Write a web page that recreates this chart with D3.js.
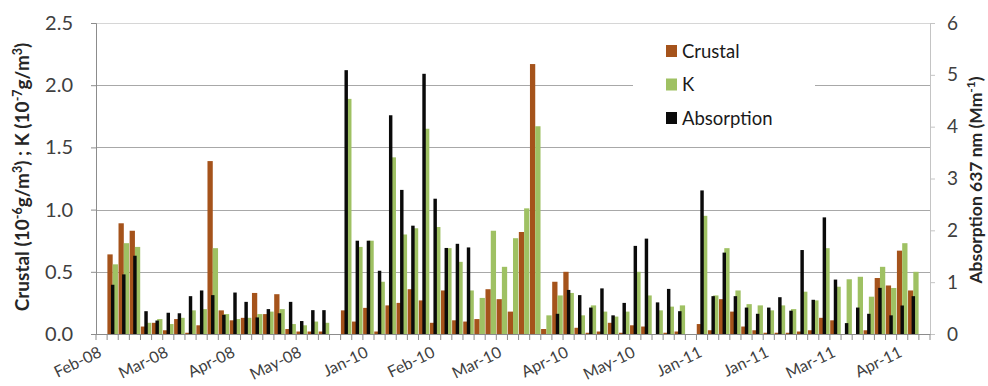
<!DOCTYPE html>
<html>
<head>
<meta charset="utf-8">
<script src="https://cdn.jsdelivr.net/npm/d3@7"></script>
<style>
  body { margin: 0; background: #fff; }
  svg { display: block; }
  text { font-family: Lato, "Open Sans", sans-serif; }
</style>
</head>
<body>
<svg id="chart" width="988" height="386"></svg>
<script>
// Sampling periods: one label every six samples
const tickLabels = ["Feb-08", "Mar-08", "Apr-08", "May-08", "Jan-10", "Feb-10", "Mar-10",
                    "Apr-10", "May-10", "Jan-11", "Jan-11", "Mar-11", "Apr-11"];
const labelEvery = 6;

// Crustal (10^-6 g/m3), left axis
const crustal = [
  null, 0.64, 0.89, 0.83, 0.06, 0.09, 0.03, 0.12, 0.01, 0.07,
  1.39, 0.19, 0.11, 0.13, 0.33, 0.16, 0.32, 0.04, 0.02, 0.02,
  0.02, null, 0.19, 0.10, 0.21, 0.02, 0.23, 0.25, 0.36, 0.27,
  0.09, 0.35, 0.11, 0.10, 0.12, 0.36, 0.28, 0.18, 0.82, 2.17,
  0.04, 0.42, 0.50, 0.05, 0.01, 0.02, 0.09, 0.01, 0.07, 0.06,
  0.00, 0.01, 0.02, null, 0.08, 0.03, 0.28, 0.18, 0.06, 0.03,
  0.01, 0.01, 0.01, 0.02, 0.03, 0.13, 0.11, 0.00, 0.00, 0.03,
  0.45, 0.39, 0.67, 0.35, null
];

// K (10^-7 g/m3), left axis
const potassium = [
  null, 0.56, 0.73, 0.70, 0.09, 0.12, 0.08, 0.13, 0.19, 0.20,
  0.69, 0.16, 0.12, 0.13, 0.16, 0.18, 0.20, 0.08, 0.07, 0.10,
  0.09, null, 1.89, 0.70, 0.75, 0.42, 1.42, 0.80, 0.85, 1.65,
  0.86, 0.69, 0.58, 0.35, 0.29, 0.83, 0.54, 0.77, 1.01, 1.67,
  0.15, 0.31, 0.33, 0.15, 0.23, 0.18, 0.14, 0.18, 0.50, 0.31,
  0.19, 0.22, 0.23, null, 0.95, 0.31, 0.69, 0.35, 0.24, 0.23,
  0.19, 0.23, 0.20, 0.34, 0.27, 0.69, 0.38, 0.44, 0.46, 0.30,
  0.54, 0.37, 0.73, 0.50, null
];

// Absorption at 637 nm (Mm-1), right axis
const absorption = [
  null, 0.95, 1.15, 1.51, 0.44, 0.26, 0.41, 0.40, 0.73, 0.84,
  0.75, 0.37, 0.80, 0.62, 0.32, 0.48, 0.40, 0.62, 0.25, 0.46,
  0.46, null, 5.09, 1.80, 1.80, 1.22, 4.22, 2.78, 2.09, 5.02,
  2.61, 1.66, 1.74, 1.67, null, null, null, null, null, null,
  null, 0.39, 0.85, 0.75, 0.51, 0.88, 0.36, 0.60, 1.70, 1.84,
  0.61, 0.87, 0.44, null, 2.77, 0.73, 1.57, 0.73, 0.51, 0.39,
  0.51, 0.71, 0.45, 1.62, 0.66, 2.25, 1.05, 0.21, 0.51, 0.39,
  0.89, 0.36, 0.55, 0.73, null
];

const seriesNames = ["Crustal", "K", "Absorption"];
const colors = { Crustal: "#a5531b", K: "#9fc163", Absorption: "#0a0a0a" };

const svg = d3.select("#chart");
const plotLeft = 96, plotRight = 930, plotTop = 23, plotBottom = 334;

const x = d3.scaleBand().domain(d3.range(crustal.length)).range([plotLeft, plotRight]).padding(0);
const yL = d3.scaleLinear().domain([0, 2.5]).range([plotBottom, plotTop]);
const yR = d3.scaleLinear().domain([0, 6]).range([plotBottom, plotTop]);
const bw = x.bandwidth();
const pw = bw * 0.475;   // width of crustal / K bars
const aw = bw * 0.31;    // width of absorption bars

// horizontal gridlines
const leftTicks = d3.range(0, 2.51, 0.5);
svg.append("g").selectAll("line")
  .data(leftTicks.filter(d => d > 0))
  .join("line")
  .attr("x1", plotLeft).attr("x2", plotRight)
  .attr("y1", d => Math.round(yL(d)) + 0.5).attr("y2", d => Math.round(yL(d)) + 0.5)
  .attr("stroke", d => d === 2.5 ? "#d6d6d6" : "#a8a8a8")
  .attr("stroke-width", 1);

// crustal and K bars side by side
const bars = svg.append("g");
bars.selectAll("rect.cr")
  .data(crustal.map((v, i) => ({ i, v })).filter(d => d.v != null))
  .join("rect").attr("class", "cr")
  .attr("x", d => x(d.i) + bw / 2 - pw)
  .attr("width", pw)
  .attr("y", d => yL(d.v))
  .attr("height", d => yL(0) - yL(d.v))
  .attr("fill", colors.Crustal);

bars.selectAll("rect.k")
  .data(potassium.map((v, i) => ({ i, v })).filter(d => d.v != null))
  .join("rect").attr("class", "k")
  .attr("x", d => x(d.i) + bw / 2)
  .attr("width", pw)
  .attr("y", d => yL(d.v))
  .attr("height", d => yL(0) - yL(d.v))
  .attr("fill", colors.K);

// absorption bars on the secondary axis, drawn over the pair
bars.selectAll("rect.ab")
  .data(absorption.map((v, i) => ({ i, v })).filter(d => d.v != null))
  .join("rect").attr("class", "ab")
  .attr("x", d => x(d.i) + bw / 2 - aw / 2)
  .attr("width", aw)
  .attr("y", d => yR(d.v))
  .attr("height", d => yR(0) - yR(d.v))
  .attr("fill", colors.Absorption);

// left axis
const axL = svg.append("g").attr("transform", `translate(${plotLeft},0)`)
  .call(d3.axisLeft(yL).tickValues(leftTicks).tickFormat(d3.format(".1f")).tickSize(5).tickPadding(18));
axL.select(".domain").attr("stroke", "#8c8c8c");
axL.selectAll(".tick line").attr("stroke", "#8c8c8c");
axL.selectAll(".tick text").attr("font-size", 20).attr("fill", "#404040")
  .style("font-family", "Lato, sans-serif");

// right axis
const axR = svg.append("g").attr("transform", `translate(${plotRight},0)`)
  .call(d3.axisRight(yR).ticks(6).tickFormat(d3.format("d")).tickSize(5).tickPadding(12));
axR.select(".domain").attr("stroke", "#c4c4c4");
axR.selectAll(".tick line").attr("stroke", "#c4c4c4");
axR.selectAll(".tick text").attr("font-size", 19).attr("fill", "#404040")
  .style("font-family", "Lato, sans-serif");

// category axis with tick marks between samples
const xa = svg.append("g");
xa.append("line").attr("x1", plotLeft).attr("x2", plotRight)
  .attr("y1", plotBottom + 0.5).attr("y2", plotBottom + 0.5)
  .attr("stroke", "#8c8c8c");
xa.selectAll("line.t")
  .data(d3.range(crustal.length + 1))
  .join("line").attr("class", "t")
  .attr("x1", i => i < crustal.length ? x(i) : plotRight)
  .attr("x2", i => i < crustal.length ? x(i) : plotRight)
  .attr("y1", plotBottom).attr("y2", plotBottom + 6)
  .attr("stroke", "#8c8c8c");
xa.selectAll("text")
  .data(tickLabels)
  .join("text")
  .attr("transform", (d, k) => `translate(${x(k * labelEvery) + bw / 2 + 1},${plotBottom + 22}) rotate(-26)`)
  .attr("text-anchor", "end")
  .attr("font-size", 16)
  .attr("fill", "#404040")
  .text(d => d);

// axis titles with superscript exponents
function titleWithSup(g, parts, base, small) {
  let prevSup = false;
  parts.forEach(p => {
    const ts = g.append("tspan").text(p.t);
    if (p.sup) {
      ts.attr("font-size", small).attr("dy", prevSup ? 0 : -7);
    } else {
      ts.attr("font-size", base).attr("dy", prevSup ? 7 : 0);
    }
    prevSup = !!p.sup;
  });
}
const lt = svg.append("text")
  .attr("transform", `translate(29,177) rotate(-90)`)
  .attr("text-anchor", "middle").attr("font-weight", "bold")
  .attr("fill", "#262626");
titleWithSup(lt, [
  { t: "Crustal (10" }, { t: "-6", sup: true }, { t: "g/m" }, { t: "3", sup: true },
  { t: ") ; K (10" }, { t: "-7", sup: true }, { t: "g/m" }, { t: "3", sup: true }, { t: ")" }
], 19, 12.5);
const rt = svg.append("text")
  .attr("transform", `translate(982,180) rotate(-90)`)
  .attr("text-anchor", "middle").attr("font-weight", "bold")
  .attr("fill", "#262626");
titleWithSup(rt, [
  { t: "Absorption 637 nm (Mm" }, { t: "-1", sup: true }, { t: ")" }
], 17.5, 12);

// legend
const lg = svg.append("g");
lg.append("rect").attr("x", 633).attr("y", 31).attr("width", 182).attr("height", 104).attr("fill", "#fff");
seriesNames.forEach((name, k) => {
  const cy = 51 + k * 33.5;
  lg.append("rect").attr("x", 666).attr("y", cy - 6).attr("width", 11).attr("height", 12)
    .attr("fill", colors[name]);
  lg.append("text").attr("x", 682).attr("y", cy + 6.5).attr("font-size", 18.5)
    .attr("fill", "#1a1a1a").text(name);
});
</script>
</body>
</html>
